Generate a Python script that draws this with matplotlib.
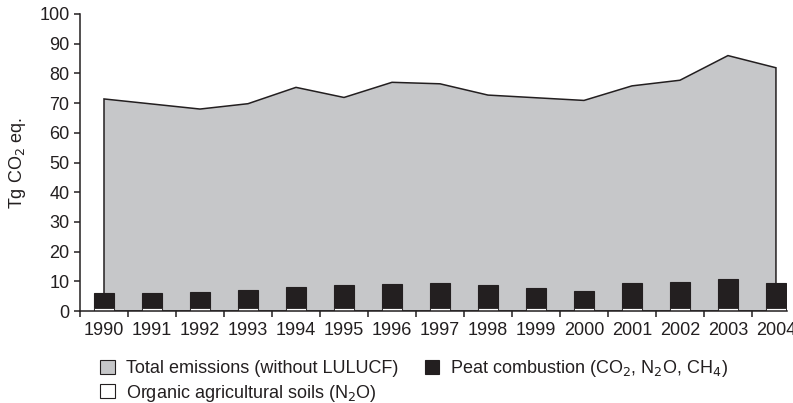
import matplotlib.pyplot as plt
from matplotlib.patches import Patch
import numpy as np

plt.rcParams['font.family'] = ['Liberation Sans', 'DejaVu Sans']

years = ['1990', '1991', '1992', '1993', '1994', '1995', '1996', '1997',
         '1998', '1999', '2000', '2001', '2002', '2003', '2004']
total = [71.4, 69.7, 68.0, 69.8, 75.3, 71.9, 77.0, 76.5,
         72.7, 71.8, 70.9, 75.8, 77.7, 86.0, 81.9]
peat = [5.9, 6.0, 6.3, 7.1, 8.0, 8.7, 9.1, 9.3,
        8.7, 7.7, 6.7, 9.3, 9.9, 10.7, 9.5]
soils = [1.1, 1.1, 1.1, 1.1, 1.1, 1.1, 1.1, 1.1,
         1.1, 1.1, 1.1, 1.1, 1.1, 0.9, 0.9]

gray = '#c6c7c9'
dark = '#231f20'

fig = plt.figure(figsize=(7.93, 4.03), dpi=100)
ax = fig.add_axes([80 / 793, 1 - 311 / 403, 707 / 793, 297 / 403])

x = np.arange(len(years))

# total emissions as a closed area
xs = np.concatenate([[x[0]], x, [x[-1]]])
ys = np.concatenate([[0], total, [0]])
ax.fill(xs, ys, facecolor=gray, edgecolor=dark, linewidth=1.1, zorder=1)

ax.bar(x, peat, width=0.42, color=dark, edgecolor=dark, linewidth=0.8, zorder=2)
ax.bar(x, soils, width=0.40, color='white', edgecolor=dark, linewidth=0.6, zorder=3)

ax.set_yticks(np.arange(0, 101, 10))
ax.set_xticks(x)
ax.set_xticklabels(years)
ax.set_xticks(np.arange(-0.5, 15, 1), minor=True)
# limits after the ticks, the last boundary tick would widen them
ax.set_xlim(-0.5, 14.23)
ax.set_ylim(0, 100)

ax.tick_params(axis='x', which='major', length=0, pad=8, labelsize=13, colors=dark)
ax.tick_params(axis='x', which='minor', length=4, width=1.1, direction='out', color=dark)
ax.tick_params(axis='y', length=4, width=1.1, pad=3.5, labelsize=13, colors=dark)

for side in ['top', 'right']:
    ax.spines[side].set_visible(False)
for side in ['left', 'bottom']:
    ax.spines[side].set_linewidth(1.1)
    ax.spines[side].set_color(dark)
    ax.spines[side].set_zorder(5)

ax.set_ylabel('Tg CO$_2$ eq.', fontsize=13, color=dark, labelpad=8)

handles = [
    Patch(facecolor=gray, edgecolor=dark, linewidth=0.8, label='Total emissions (without LULUCF)'),
    Patch(facecolor='white', edgecolor=dark, linewidth=0.8, label='Organic agricultural soils (N$_2$O)'),
    Patch(facecolor=dark, edgecolor=dark, linewidth=0.8, label='Peat combustion (CO$_2$, N$_2$O, CH$_4$)'),
]
fig.legend(handles=handles, ncol=2, loc='upper left', bbox_to_anchor=(84 / 793, 1 - 342 / 403),
           frameon=False, fontsize=13, handlelength=0.8, handleheight=0.8,
           handletextpad=0.6, columnspacing=1.5, labelspacing=0.3, labelcolor=dark)

fig.savefig('out.png', dpi=100)
